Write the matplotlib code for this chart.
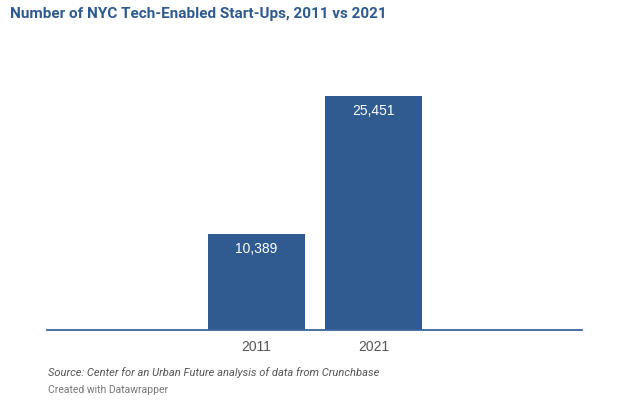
import matplotlib.pyplot as plt

plt.rcParams.update({
    "font.family": ["Roboto", "DejaVu Sans"],
    "savefig.facecolor": "white",
})

# data
years = ["2011", "2021"]
startups = [10389, 25451]
value_labels = ["10,389", "25,451"]

bar_color = "#305b91"
title_color = "#2e5a8f"

fig = plt.figure(figsize=(6.36, 4.14), dpi=100)
ax = fig.add_axes([47 / 636, (414 - 330.7) / 414, (582 - 47) / 636, (330.7 - 60) / 414])

x = range(len(years))
bars = ax.bar(x, startups, width=0.826, color=bar_color, zorder=2)

for b, lab in zip(bars, value_labels):
    ax.annotate(lab, (b.get_x() + b.get_width() / 2, b.get_height()),
                xytext=(0, -5), textcoords="offset points",
                ha="center", va="top", color="white", fontsize=10,
                family=["Liberation Sans", "DejaVu Sans"])

ax.set_xlim(-1.79, 2.78)
ax.set_ylim(0, 25451 * (330.7 - 60) / 233.7)

ax.set_xticks(list(x))
ax.set_xticklabels(years, fontsize=10, color="#555555",
                   family=["Liberation Sans", "DejaVu Sans"])
ax.tick_params(axis="x", length=0, pad=7)
ax.set_yticks([])

for s in ["top", "right", "left"]:
    ax.spines[s].set_visible(False)
ax.spines["bottom"].set_color("#3a64a0")
ax.spines["bottom"].set_linewidth(1.3)
ax.spines["bottom"].set_zorder(3)

fig.text(10 / 636, 1 - 14 / 414, "Number of NYC Tech-Enabled Start-Ups, 2011 vs 2021",
         fontsize=11, fontweight="bold", color=title_color, va="center", ha="left")
fig.text(48 / 636, 1 - 373 / 414,
         "Source: Center for an Urban Future analysis of data from Crunchbase",
         fontsize=8, style="italic", color="#555555", va="center", ha="left")
fig.text(48 / 636, 1 - 390 / 414, "Created with Datawrapper",
         fontsize=7.5, color="#777777", va="center", ha="left")

fig.savefig("out.png", dpi=100)
